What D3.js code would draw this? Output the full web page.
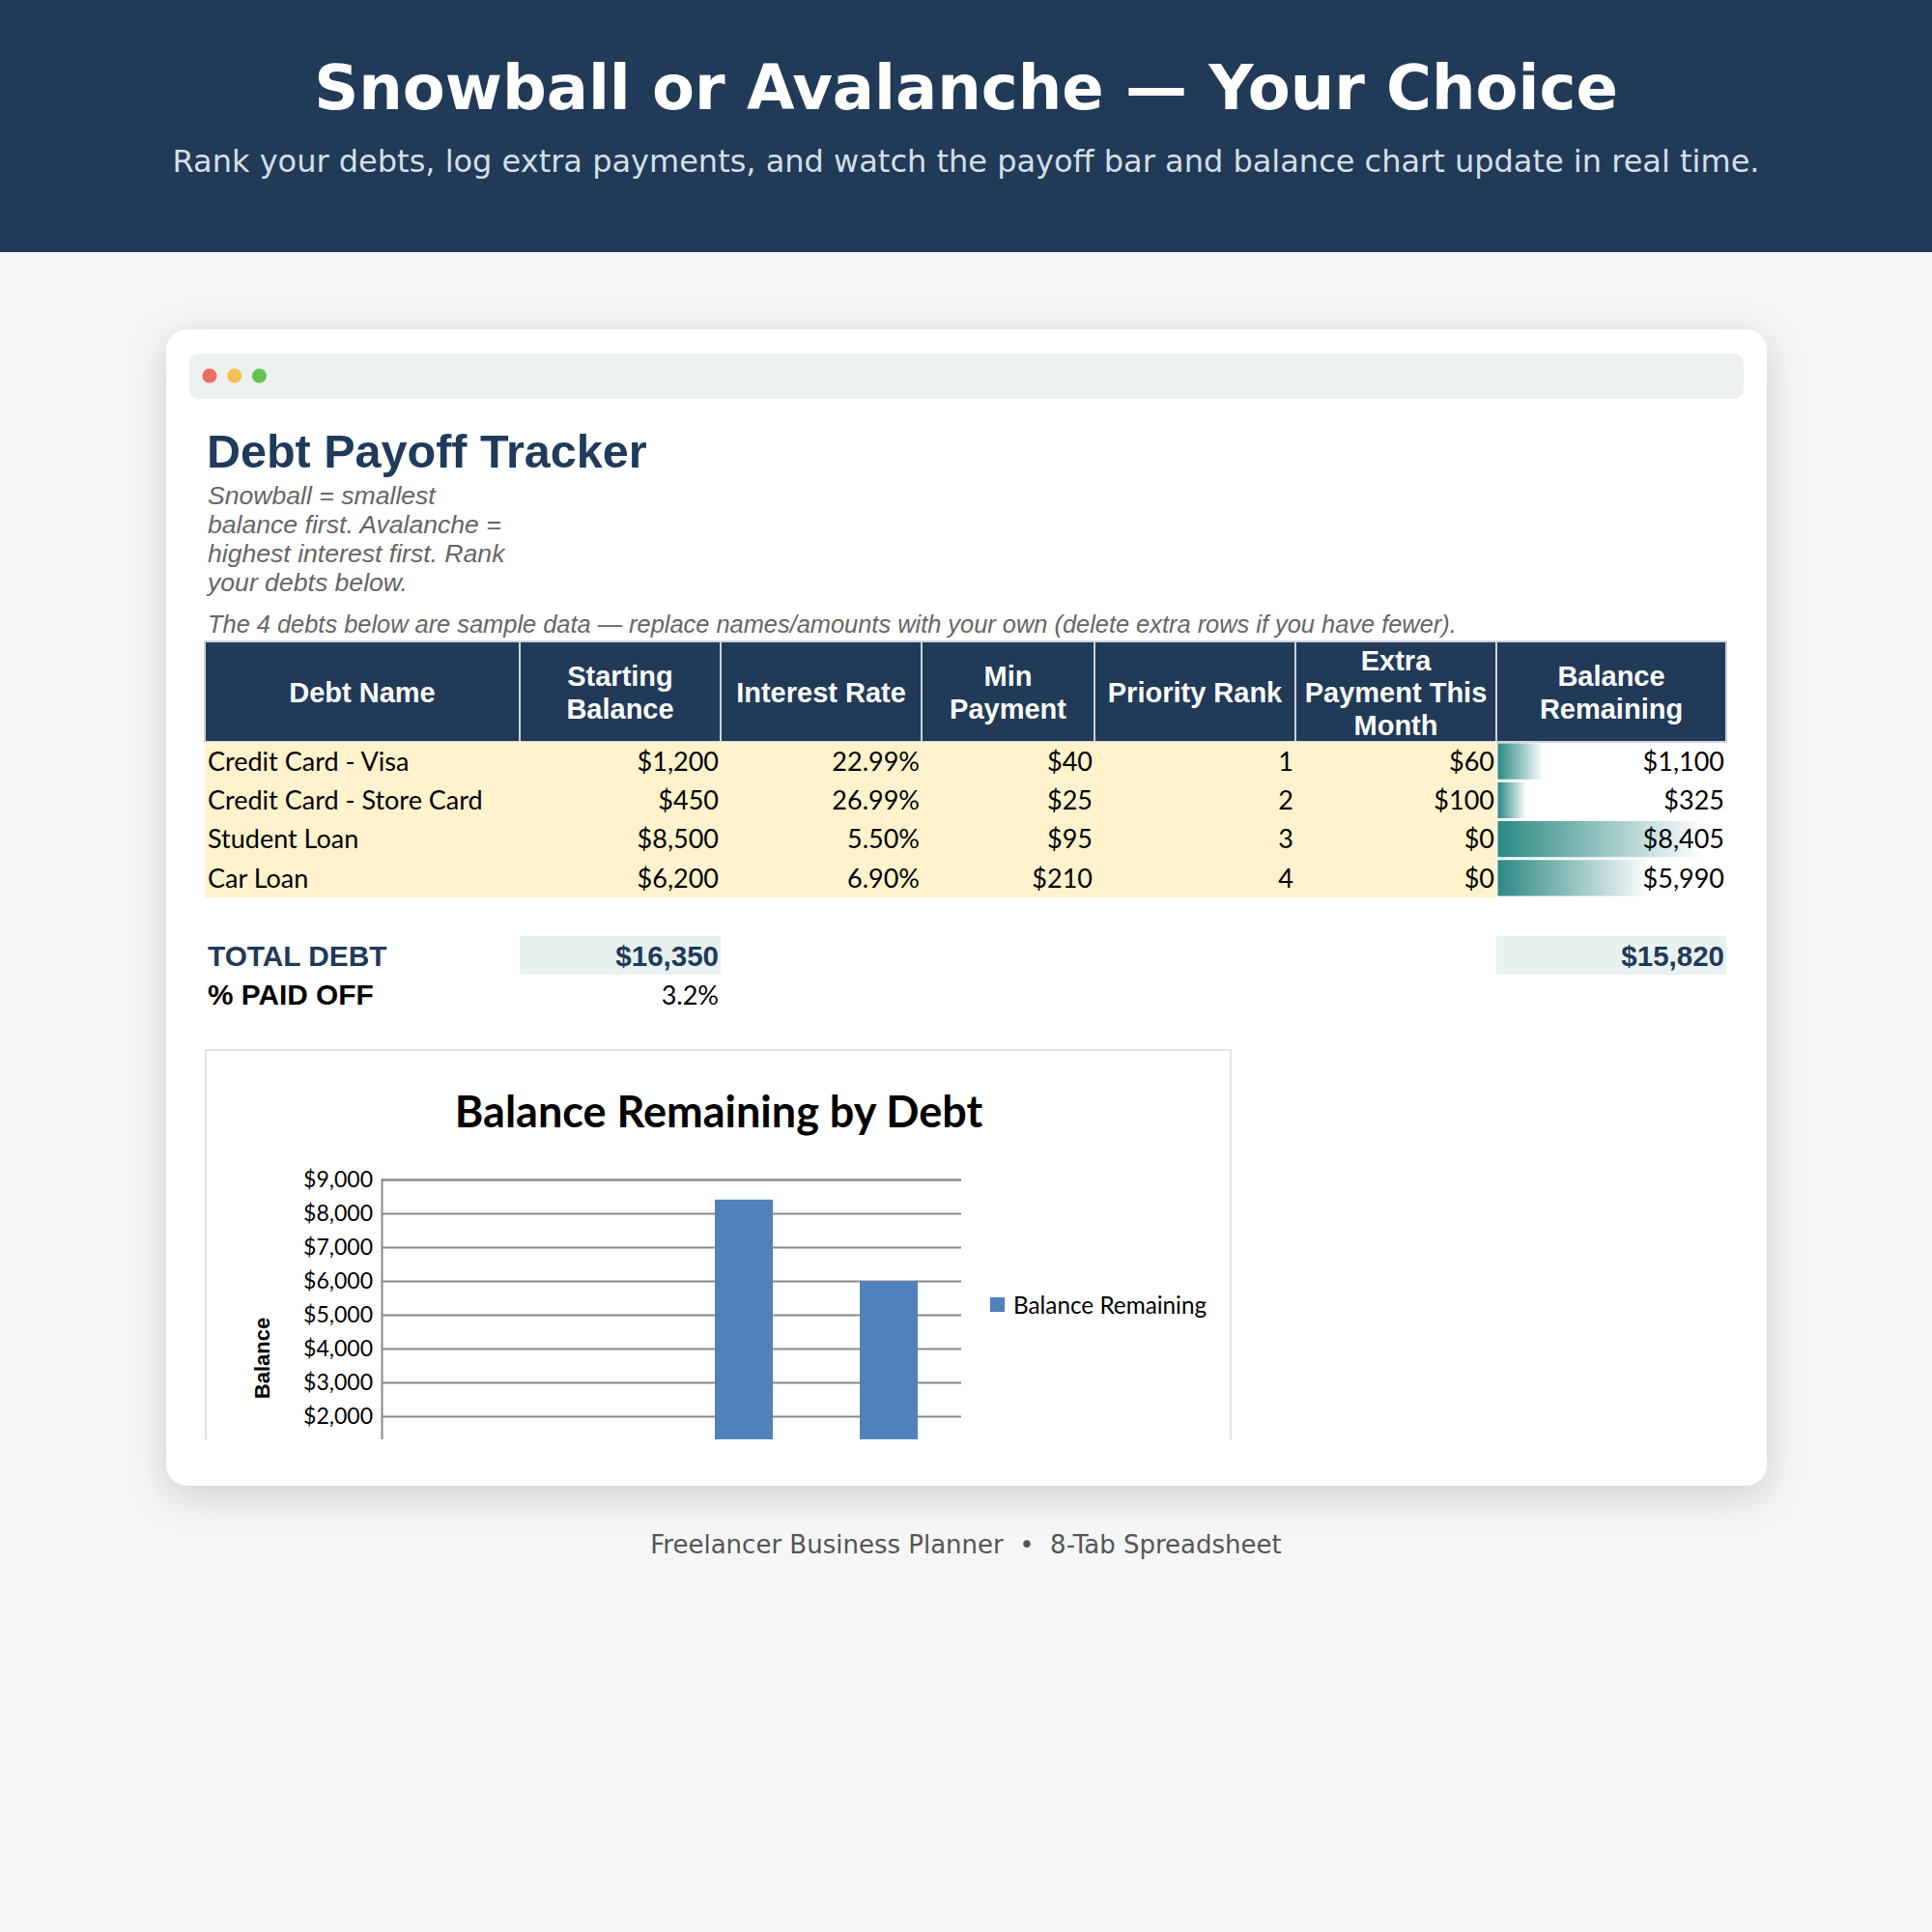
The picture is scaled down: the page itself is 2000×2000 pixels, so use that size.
<!DOCTYPE html>
<html>
<head>
<meta charset="utf-8">
<script src="https://cdn.jsdelivr.net/npm/d3@7.9.0/dist/d3.min.js"></script>
<style>
  html, body { margin: 0; padding: 0; background: #f5f7f7; }
  svg { display: block; }
</style>
</head>
<body>
<svg id="page" width="2000" height="2000"></svg>
<script>
// ---- data ----
const debtNames = ['Credit Card - Visa', 'Credit Card - Store Card', 'Student Loan', 'Car Loan'];
const startBalances = [1200, 450, 8500, 6200];
const interestRates = [22.99, 26.99, 5.50, 6.90];
const minPayments = [40, 25, 95, 210];
const priorityRanks = [1, 2, 3, 4];
const extraPayments = [60, 100, 0, 0];
const balancesRemaining = [1100, 325, 8405, 5990];

const headerLabels = [
  ['Debt Name'],
  ['Starting', 'Balance'],
  ['Interest Rate'],
  ['Min', 'Payment'],
  ['Priority Rank'],
  ['Extra', 'Payment This', 'Month'],
  ['Balance', 'Remaining']
];
const yTicks = [2000, 3000, 4000, 5000, 6000, 7000, 8000, 9000];

const noteLines = ['Snowball = smallest', 'balance first. Avalanche =', 'highest interest first. Rank', 'your debts below.'];

// ---- styles ----
const navy = '#213a58';
const sans = "'Liberation Sans', Arial, sans-serif";
const calib = "Lato, 'Open Sans', sans-serif";
const dejavu = "'DejaVu Sans', sans-serif";

const svg = d3.select('#page');
const defs = svg.append('defs');

const shadow = defs.append('filter').attr('id', 'cardShadow')
  .attr('x', '-10%').attr('y', '-10%').attr('width', '120%').attr('height', '120%');
shadow.append('feDropShadow').attr('dx', 0).attr('dy', 10).attr('stdDeviation', 20)
  .attr('flood-color', '#000').attr('flood-opacity', 0.17);

const grad = defs.append('linearGradient').attr('id', 'dataBar')
  .attr('x1', 0).attr('x2', 1).attr('y1', 0).attr('y2', 0);
grad.append('stop').attr('offset', 0).attr('stop-color', '#2b8984');
grad.append('stop').attr('offset', 1).attr('stop-color', '#ffffff');

defs.append('clipPath').attr('id', 'cardClip')
  .append('rect').attr('x', 172).attr('y', 341).attr('width', 1657).attr('height', 1149);

const fmtMoney = d => '$' + d3.format(',')(d);
const fmtPct = d => d3.format('.2f')(d) + '%';

// page background + banner
svg.append('rect').attr('width', 2000).attr('height', 2000).attr('fill', '#f5f7f7');
svg.append('rect').attr('width', 2000).attr('height', 261).attr('fill', navy);
svg.append('text').attr('x', 1000).attr('y', 113).attr('text-anchor', 'middle')
  .attr('font-family', dejavu).attr('font-weight', 'bold').attr('font-size', 64).attr('fill', '#fff')
  .text('Snowball or Avalanche \u2014 Your Choice');
svg.append('text').attr('x', 1000).attr('y', 178).attr('text-anchor', 'middle')
  .attr('font-family', dejavu).attr('font-size', 32).attr('fill', '#d3dfe6')
  .text('Rank your debts, log extra payments, and watch the payoff bar and balance chart update in real time.');

// card
svg.append('rect').attr('x', 172).attr('y', 341).attr('width', 1657).attr('height', 1197)
  .attr('rx', 22).attr('fill', '#fff').attr('filter', 'url(#cardShadow)');
svg.append('rect').attr('x', 196).attr('y', 366).attr('width', 1609).attr('height', 47)
  .attr('rx', 10).attr('fill', '#edf0f1');
svg.selectAll('.dot').data(['#ee6b5f', '#f5bf4f', '#61c554']).join('circle')
  .attr('class', 'dot').attr('cx', (d, i) => 217 + i * 25.7).attr('cy', 389).attr('r', 7.5).attr('fill', d => d);

const sheet = svg.append('g').attr('clip-path', 'url(#cardClip)');

sheet.append('text').attr('x', 214).attr('y', 484)
  .attr('font-family', sans).attr('font-weight', 'bold').attr('font-size', 48.5).attr('fill', '#1f3a5a')
  .text('Debt Payoff Tracker');
sheet.append('g').selectAll('text').data(noteLines).join('text')
  .attr('x', 215).attr('y', (d, i) => 522 + i * 29.9)
  .attr('font-family', sans).attr('font-style', 'italic').attr('font-size', 26.6).attr('fill', '#666')
  .text(d => d);
sheet.append('text').attr('x', 215).attr('y', 655)
  .attr('font-family', sans).attr('font-style', 'italic').attr('font-size', 25.4).attr('fill', '#666')
  .text('The 4 debts below are sample data \u2014 replace names/amounts with your own (delete extra rows if you have fewer).');

// ---- table ----
const colEdges = [212, 538, 746, 954, 1133, 1341, 1549, 1787];
const headTop = 664, headBottom = 768, rowH = 40.25;

const head = sheet.append('g');
head.selectAll('rect').data(headerLabels).join('rect')
  .attr('x', (d, i) => colEdges[i]).attr('y', headTop)
  .attr('width', (d, i) => colEdges[i + 1] - colEdges[i]).attr('height', headBottom - headTop)
  .attr('fill', navy).attr('stroke', '#cfd3d7').attr('stroke-width', 2);
head.selectAll('text').data(headerLabels).join('text')
  .attr('text-anchor', 'middle').attr('font-family', sans).attr('font-weight', 'bold')
  .attr('font-size', 29).attr('fill', '#fff')
  .each(function (lines, i) {
    const cx = (colEdges[i] + colEdges[i + 1]) / 2;
    const cy = (headTop + headBottom) / 2;
    d3.select(this).selectAll('tspan').data(lines).join('tspan')
      .attr('x', cx)
      .attr('y', (l, j) => cy + (j - (lines.length - 1) / 2) * 33.5 + 11)
      .text(l => l);
  });

const rows = debtNames.map((name, i) => ({
  cells: [name, fmtMoney(startBalances[i]), fmtPct(interestRates[i]), fmtMoney(minPayments[i]),
          String(priorityRanks[i]), fmtMoney(extraPayments[i]), fmtMoney(balancesRemaining[i])],
  balance: balancesRemaining[i]
}));

const body = sheet.append('g');
body.append('rect').attr('x', colEdges[0]).attr('y', headBottom)
  .attr('width', colEdges[6] - colEdges[0]).attr('height', rowH * rows.length).attr('fill', '#fff2cc');

const barW = d3.scaleLinear()
  .domain([d3.min(balancesRemaining), d3.max(balancesRemaining)])
  .range([30, 213]);

body.selectAll('.databar').data(rows).join('rect')
  .attr('class', 'databar')
  .attr('x', colEdges[6] + 1.5).attr('y', (d, i) => headBottom + i * rowH + 1.5)
  .attr('width', d => barW(d.balance)).attr('height', rowH - 3)
  .attr('fill', 'url(#dataBar)');

const rowG = body.selectAll('.row').data(rows).join('g').attr('class', 'row')
  .attr('transform', (d, i) => `translate(0,${headBottom + i * rowH + rowH / 2})`);
rowG.selectAll('text').data(d => d.cells).join('text')
  .attr('x', (d, j) => j === 0 ? colEdges[0] + 3 : colEdges[j + 1] - 2)
  .attr('text-anchor', (d, j) => j === 0 ? 'start' : 'end')
  .attr('dy', '0.36em')
  .attr('font-family', calib).attr('font-size', 27).attr('fill', '#000')
  .text(d => d);

// totals
const totalStart = d3.sum(startBalances);
const totalLeft = d3.sum(balancesRemaining);
const paidOff = (totalStart - totalLeft) / totalStart * 100;

const totals = sheet.append('g');
totals.append('rect').attr('x', colEdges[1]).attr('y', 969).attr('width', colEdges[2] - colEdges[1]).attr('height', 40).attr('fill', '#e9f1f0');
totals.append('rect').attr('x', colEdges[6]).attr('y', 969).attr('width', colEdges[7] - colEdges[6]).attr('height', 40).attr('fill', '#e9f1f0');
totals.append('text').attr('x', 215).attr('y', 1000)
  .attr('font-family', sans).attr('font-weight', 'bold').attr('font-size', 29.8).attr('fill', '#1f3a5a')
  .text('TOTAL DEBT');
totals.append('text').attr('x', colEdges[2] - 2).attr('y', 1000).attr('text-anchor', 'end')
  .attr('font-family', sans).attr('font-weight', 'bold').attr('font-size', 29.5).attr('fill', '#1f3a5a')
  .text(fmtMoney(totalStart));
totals.append('text').attr('x', colEdges[7] - 2).attr('y', 1000).attr('text-anchor', 'end')
  .attr('font-family', sans).attr('font-weight', 'bold').attr('font-size', 29.5).attr('fill', '#1f3a5a')
  .text(fmtMoney(totalLeft));
totals.append('text').attr('x', 215).attr('y', 1040)
  .attr('font-family', sans).attr('font-weight', 'bold').attr('font-size', 29.8).attr('fill', '#000')
  .text('% PAID OFF');
totals.append('text').attr('x', colEdges[2] - 2).attr('y', 1040).attr('text-anchor', 'end')
  .attr('font-family', calib).attr('font-size', 27).attr('fill', '#000')
  .text(d3.format('.1f')(paidOff) + '%');

// ---- chart ----
const chart = sheet.append('g');
chart.append('rect').attr('x', 213).attr('y', 1087).attr('width', 1061).attr('height', 500)
  .attr('fill', '#fff').attr('stroke', '#d9d9d9').attr('stroke-width', 1.5);
chart.append('text').attr('x', 744).attr('y', 1167).attr('text-anchor', 'middle')
  .attr('font-family', calib).attr('font-weight', 'bold').attr('font-size', 45).attr('fill', '#000')
  .text('Balance Remaining by Debt');

const x = d3.scaleBand().domain(debtNames).range([395, 995]).paddingInner(0.6).paddingOuter(0.3);
const y = d3.scaleLinear().domain([0, 9000]).range([1536, 1221]);

chart.append('g').attr('transform', 'translate(395,0)')
  .call(d3.axisLeft(y).tickValues(yTicks).tickSize(-600).tickFormat(fmtMoney).tickPadding(9))
  .call(g => g.select('.domain').attr('stroke', '#888').attr('stroke-width', 2))
  .call(g => g.selectAll('.tick line').attr('stroke', '#888').attr('stroke-width', 2))
  .call(g => g.selectAll('.tick text').attr('font-family', calib).attr('font-size', 23).attr('fill', '#000'));

chart.selectAll('.bar').data(debtNames).join('rect')
  .attr('class', 'bar')
  .attr('x', d => x(d)).attr('width', x.bandwidth())
  .attr('y', (d, i) => y(balancesRemaining[i])).attr('height', (d, i) => y(0) - y(balancesRemaining[i]))
  .attr('fill', '#4f81bd');

chart.append('text').attr('transform', 'translate(279,1406) rotate(-90)').attr('text-anchor', 'middle')
  .attr('font-family', sans).attr('font-weight', 'bold').attr('font-size', 22).attr('fill', '#000')
  .text('Balance');

chart.append('rect').attr('x', 1025).attr('y', 1343).attr('width', 15).attr('height', 15).attr('fill', '#4f81bd');
chart.append('text').attr('x', 1049).attr('y', 1351).attr('dy', '0.35em')
  .attr('font-family', calib).attr('font-size', 24.3).attr('fill', '#000')
  .text('Balance Remaining');

// footer
svg.append('text').attr('x', 1000).attr('y', 1608).attr('text-anchor', 'middle')
  .attr('font-family', dejavu).attr('font-size', 26).attr('fill', '#555')
  .text('Freelancer Business Planner\u00a0\u00a0\u2022\u00a0\u00a08-Tab Spreadsheet');
</script>
</body>
</html>
